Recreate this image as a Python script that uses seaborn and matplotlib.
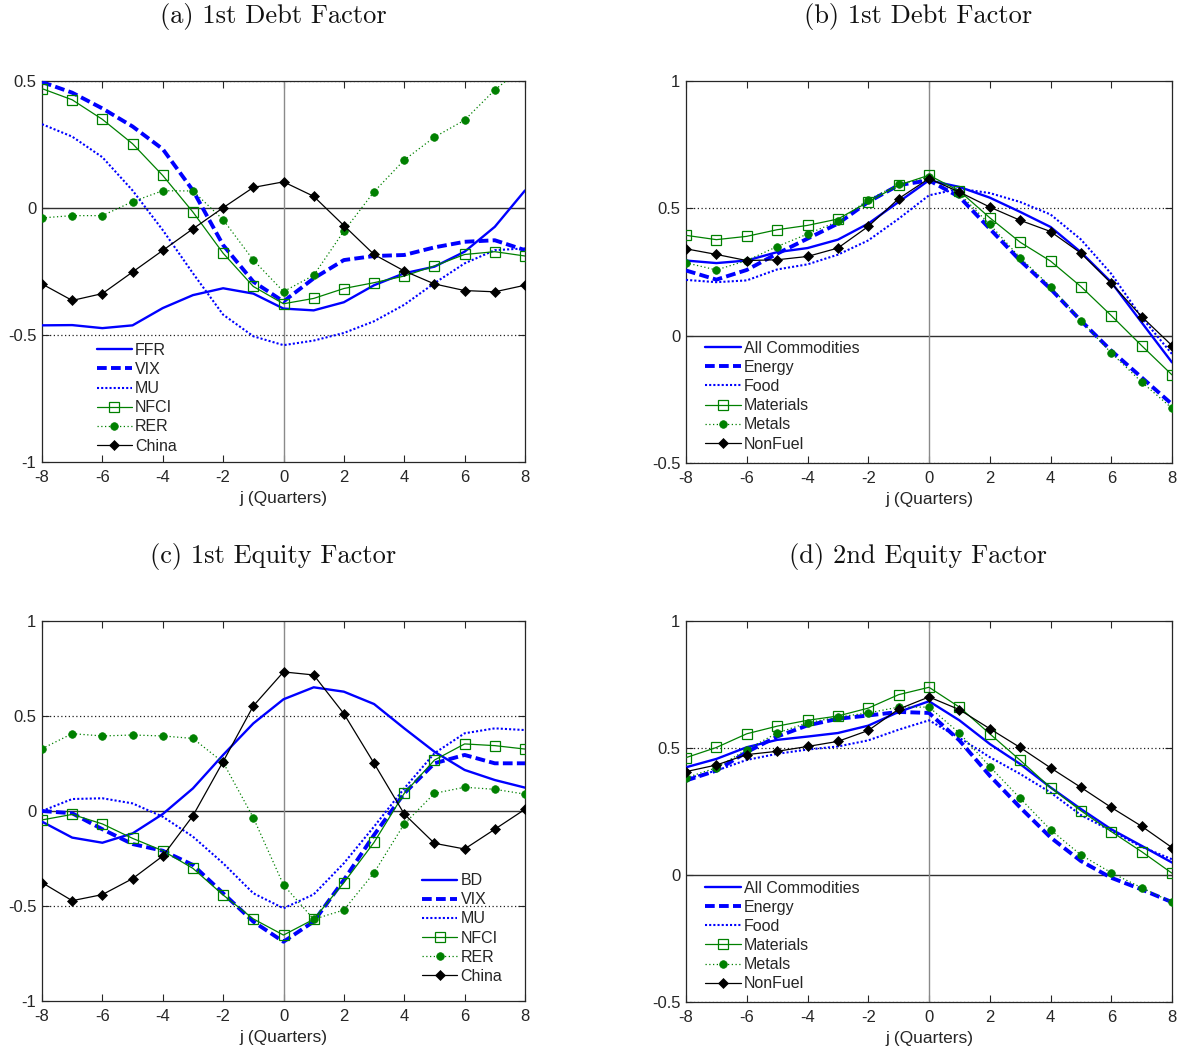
import numpy as np
import pandas as pd
import matplotlib
matplotlib.use("Agg")
import matplotlib.pyplot as plt
import seaborn as sns

# ---------------- data ----------------
j = list(range(-8, 9))

# (a) 1st Debt Factor
a_ffr = [-0.462, -0.461, -0.473, -0.462, -0.394, -0.343, -0.316, -0.337, -0.396, -0.403, -0.371, -0.304, -0.257, -0.231, -0.172, -0.074, 0.069]
a_vix = [0.496, 0.454, 0.392, 0.321, 0.232, 0.069, -0.146, -0.290, -0.368, -0.277, -0.205, -0.189, -0.185, -0.155, -0.133, -0.127, -0.166]
a_mu = [0.330, 0.281, 0.200, 0.069, -0.087, -0.257, -0.420, -0.505, -0.540, -0.522, -0.492, -0.446, -0.381, -0.296, -0.218, -0.166, -0.159]
a_nfci = [0.470, 0.426, 0.349, 0.253, 0.128, -0.016, -0.178, -0.309, -0.377, -0.356, -0.317, -0.294, -0.268, -0.228, -0.183, -0.172, -0.189]
a_rer = [-0.039, -0.030, -0.030, 0.025, 0.068, 0.067, -0.046, -0.205, -0.329, -0.265, -0.091, 0.064, 0.189, 0.279, 0.346, 0.465, 0.560]
a_china = [-0.299, -0.364, -0.337, -0.252, -0.167, -0.082, 0.001, 0.081, 0.103, 0.046, -0.069, -0.183, -0.248, -0.299, -0.325, -0.330, -0.304]

# (b) 1st Debt Factor (commodities)
b_all = [0.295, 0.285, 0.295, 0.328, 0.344, 0.377, 0.440, 0.525, 0.610, 0.584, 0.542, 0.486, 0.427, 0.328, 0.210, 0.052, -0.105]
b_energy = [0.256, 0.220, 0.258, 0.322, 0.381, 0.440, 0.525, 0.591, 0.610, 0.545, 0.420, 0.295, 0.184, 0.059, -0.059, -0.164, -0.269]
b_food = [0.219, 0.210, 0.217, 0.260, 0.280, 0.318, 0.374, 0.459, 0.551, 0.577, 0.560, 0.525, 0.476, 0.378, 0.243, 0.072, -0.072]
b_materials = [0.394, 0.377, 0.390, 0.416, 0.433, 0.458, 0.525, 0.591, 0.630, 0.568, 0.463, 0.367, 0.293, 0.193, 0.079, -0.039, -0.154]
b_metals = [0.286, 0.258, 0.295, 0.350, 0.399, 0.449, 0.534, 0.594, 0.623, 0.558, 0.437, 0.306, 0.193, 0.059, -0.068, -0.182, -0.285]
b_nonfuel = [0.341, 0.319, 0.295, 0.298, 0.311, 0.344, 0.429, 0.538, 0.617, 0.564, 0.505, 0.453, 0.409, 0.324, 0.206, 0.075, -0.039]

# (c) 1st Equity Factor
c_bd = [-0.056, -0.140, -0.167, -0.118, -0.016, 0.119, 0.295, 0.461, 0.588, 0.651, 0.628, 0.563, 0.435, 0.312, 0.216, 0.163, 0.123]
c_vix = [0.000, -0.012, -0.096, -0.174, -0.209, -0.284, -0.433, -0.582, -0.688, -0.582, -0.363, -0.126, 0.093, 0.251, 0.295, 0.251, 0.251]
c_mu = [0.000, 0.063, 0.067, 0.040, -0.030, -0.135, -0.275, -0.433, -0.512, -0.439, -0.275, -0.082, 0.119, 0.304, 0.409, 0.435, 0.426]
c_nfci = [-0.047, -0.018, -0.068, -0.144, -0.209, -0.302, -0.442, -0.568, -0.653, -0.570, -0.377, -0.165, 0.093, 0.268, 0.353, 0.344, 0.326]
c_rer = [0.328, 0.407, 0.395, 0.400, 0.395, 0.382, 0.256, -0.035, -0.389, -0.570, -0.521, -0.325, -0.068, 0.093, 0.125, 0.114, 0.089]
c_china = [-0.377, -0.472, -0.440, -0.356, -0.237, -0.025, 0.260, 0.553, 0.732, 0.716, 0.512, 0.251, -0.016, -0.170, -0.200, -0.096, 0.009]

# (d) 2nd Equity Factor (commodities)
d_all = [0.424, 0.457, 0.503, 0.532, 0.545, 0.559, 0.588, 0.642, 0.684, 0.609, 0.516, 0.437, 0.345, 0.260, 0.180, 0.115, 0.049]
d_energy = [0.372, 0.411, 0.484, 0.545, 0.589, 0.615, 0.628, 0.642, 0.638, 0.530, 0.391, 0.266, 0.148, 0.055, -0.011, -0.057, -0.107]
d_food = [0.378, 0.411, 0.453, 0.477, 0.494, 0.506, 0.530, 0.572, 0.609, 0.540, 0.464, 0.398, 0.325, 0.236, 0.174, 0.111, 0.062]
d_materials = [0.462, 0.502, 0.556, 0.586, 0.609, 0.626, 0.657, 0.710, 0.739, 0.661, 0.556, 0.452, 0.344, 0.253, 0.171, 0.092, 0.007]
d_metals = [0.383, 0.422, 0.494, 0.559, 0.599, 0.622, 0.638, 0.661, 0.661, 0.559, 0.427, 0.302, 0.178, 0.079, 0.009, -0.050, -0.107]
d_nonfuel = [0.407, 0.433, 0.474, 0.487, 0.506, 0.526, 0.569, 0.653, 0.701, 0.651, 0.576, 0.502, 0.422, 0.345, 0.266, 0.192, 0.108]

labels_ab = ["FFR", "VIX", "MU", "NFCI", "RER", "China"]
labels_c = ["BD", "VIX", "MU", "NFCI", "RER", "China"]
labels_comm = ["All Commodities", "Energy", "Food", "Materials", "Metals", "NonFuel"]

titles = ["(a) 1st Debt Factor", "(b) 1st Debt Factor", "(c) 1st Equity Factor", "(d) 2nd Equity Factor"]
xticks = [-8, -6, -4, -2, 0, 2, 4, 6, 8]
yticks_a = [-1, -0.5, 0, 0.5]
yticks_b = [-0.5, 0, 0.5, 1]
yticks_c = [-1, -0.5, 0, 0.5, 1]
yticks_d = [-0.5, 0, 0.5, 1]

# ---------------- style ----------------
sns.set_theme(style="white")
plt.rcParams["font.family"] = ["Liberation Sans", "DejaVu Sans"]
plt.rcParams["axes.unicode_minus"] = False

BLUE = "#0000FF"
GREEN = "#008000"
BLACK = "#000000"

# six line styles in order
styles = [
    dict(color=BLUE, linewidth=1.7, linestyle="-", marker=None),
    dict(color=BLUE, linewidth=2.8, linestyle=(0, (2.5, 1.1)), marker=None),
    dict(color=BLUE, linewidth=1.5, linestyle=(0, (1, 1)), marker=None),
    dict(color=GREEN, linewidth=0.9, linestyle="-", marker="s", markersize=7,
         markerfacecolor="none", markeredgecolor=GREEN, markeredgewidth=0.9),
    dict(color=GREEN, linewidth=0.9, linestyle=(0, (1, 2)), marker="o", markersize=5.5,
         markerfacecolor=GREEN, markeredgecolor=GREEN, markeredgewidth=0.5),
    dict(color=BLACK, linewidth=0.9, linestyle="-", marker="D", markersize=5,
         markerfacecolor=BLACK, markeredgecolor=BLACK, markeredgewidth=0.5),
]

W, H = 1178, 1053
fig = plt.figure(figsize=(W / 100, H / 100), dpi=100)


def add_ax(left, top, right, bottom):
    return fig.add_axes([left / W, 1 - bottom / H, (right - left) / W, (bottom - top) / H])


panels = [
    dict(rect=(42, 81, 525, 462), series=[a_ffr, a_vix, a_mu, a_nfci, a_rer, a_china],
         labels=labels_ab, ylim=(-1, 0.5), yticks=yticks_a, leg=(0.113, 0.022),
         title_xy=(273, 17)),
    dict(rect=(686, 81, 1172, 463), series=[b_all, b_energy, b_food, b_materials, b_metals, b_nonfuel],
         labels=labels_comm, ylim=(-0.5, 1), yticks=yticks_b, leg=(0.040, 0.03),
         title_xy=(918, 17)),
    dict(rect=(42, 621, 525, 1001), series=[c_bd, c_vix, c_mu, c_nfci, c_rer, c_china],
         labels=labels_c, ylim=(-1, 1), yticks=yticks_c, leg=(0.787, 0.045),
         title_xy=(273, 557)),
    dict(rect=(686, 621, 1172, 1002), series=[d_all, d_energy, d_food, d_materials, d_metals, d_nonfuel],
         labels=labels_comm, ylim=(-0.5, 1), yticks=yticks_d, leg=(0.040, 0.028),
         title_xy=(918, 557)),
]

for i, p in enumerate(panels):
    ax = add_ax(*p["rect"])
    # reference lines
    ax.axhline(0, color="#303030", linewidth=1.0, zorder=1)
    ax.axvline(0, color="#8a8a8a", linewidth=1.0, zorder=1)
    for yy in (-0.5, 0.5):
        ax.axhline(yy, color="#202020", linewidth=0.9, linestyle=(0, (1, 2)), zorder=1)

    for vals, lab, st in zip(p["series"], p["labels"], styles):
        df = pd.DataFrame({"j": j, "v": vals})
        sns.lineplot(data=df, x="j", y="v", ax=ax, label=lab, zorder=3, **st)

    ax.set_xlim(-8, 8)
    ax.set_ylim(*p["ylim"])
    ax.set_xticks(xticks)
    ax.set_xticklabels([str(t) for t in xticks])
    ax.set_yticks(p["yticks"])
    ax.set_yticklabels([("%g" % t) for t in p["yticks"]])
    ax.set_xlabel("j (Quarters)", fontsize=12.5, color="#262626", labelpad=4)
    ax.set_ylabel("")
    ax.tick_params(axis="both", direction="in", length=5, width=0.8, colors="#262626",
                   labelsize=12, top=True, right=True, bottom=True, left=True)
    ax.tick_params(axis="x", pad=6)
    ax.tick_params(axis="y", pad=4)
    for s in ax.spines.values():
        s.set_visible(True)
        s.set_color("#262626")
        s.set_linewidth(0.9)
    ax.set_facecolor("white")

    leg = ax.legend(loc="lower left", bbox_to_anchor=p["leg"], frameon=False,
                    fontsize=11.5, handlelength=2.2, handletextpad=0.2,
                    labelspacing=0.26, borderpad=0, borderaxespad=0, numpoints=1)

    tx, ty = p["title_xy"]
    fig.text(tx / W, 1 - ty / H, titles[i], ha="center", va="center",
             fontsize=19, family="cmr10", color="#111111")

fig.savefig("out.png", dpi=100, facecolor="white")
